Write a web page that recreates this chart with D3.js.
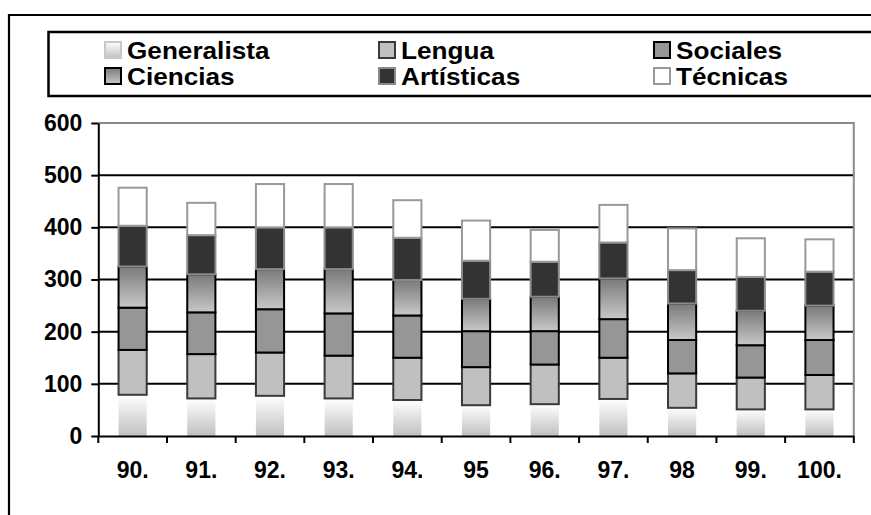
<!DOCTYPE html>
<html>
<head>
<meta charset="utf-8">
<script src="https://cdn.jsdelivr.net/npm/d3@7"></script>
<style>
html,body{margin:0;padding:0;background:#fff;}
svg{display:block;font-family:"Liberation Sans",Arial,Helvetica,sans-serif;font-weight:bold;}
</style>
</head>
<body>
<svg id="chart" width="871" height="515"></svg>
<script>
const categories = ["90.","91.","92.","93.","94.","95","96.","97.","98","99.","100."];
const seriesNames = ["Generalista","Lengua","Sociales","Ciencias","Artísticas","Técnicas"];
const generalista = [79,72,77,72,69,59,61,71,54,51,51];
const lengua      = [86,85,83,82,81,73,76,79,66,61,66];
const sociales    = [81,80,83,81,81,69,64,74,64,62,67];
const ciencias    = [79,73,77,85,68,62,66,78,70,66,66];
const artisticas  = [78,75,80,80,81,73,67,69,64,65,65];
const tecnicas    = [73,62,83,83,72,77,61,72,80,74,62];
const yTicks = [0,100,200,300,400,500,600];

const seriesValues = [generalista,lengua,sociales,ciencias,artisticas,tecnicas];
const data = categories.map((c,i)=>{
  const o = {cat:c};
  seriesNames.forEach((s,j)=>o[s]=seriesValues[j][i]);
  return o;
});

const svg = d3.select("#chart");
const defs = svg.append("defs");
function grad(id, top, bottom){
  const g = defs.append("linearGradient").attr("id",id).attr("x1",0).attr("y1",0).attr("x2",0).attr("y2",1);
  g.append("stop").attr("offset","0%").attr("stop-color",top);
  g.append("stop").attr("offset","100%").attr("stop-color",bottom);
}
grad("gGen","#ffffff","#c0c0c0");
grad("gCien","#7a7a7a","#c8c8c8");

const styles = {
  "Generalista":{fill:"url(#gGen)",stroke:"#c8c8c8"},
  "Lengua":{fill:"#c0c0c0",stroke:"#3a3a3a"},
  "Sociales":{fill:"#969696",stroke:"#000000"},
  "Ciencias":{fill:"url(#gCien)",stroke:"#000000"},
  "Artísticas":{fill:"#333333",stroke:"#8a8a8a"},
  "Técnicas":{fill:"#ffffff",stroke:"#999999"}
};

// outer frame
svg.append("path").attr("d","M9,515V15H871").attr("fill","none").attr("stroke","#000").attr("stroke-width",2.2);

// legend
svg.append("rect").attr("x",48.5).attr("y",32).attr("width",900).attr("height",64)
  .attr("fill","#fff").attr("stroke","#000").attr("stroke-width",2.5);
const legX = [104,378,653];
const legY = [41,67];
seriesNames.forEach((s,i)=>{
  const col = i%3, row = Math.floor(i/3);
  const g = svg.append("g").attr("transform",`translate(${legX[col]},${legY[row]})`);
  g.append("rect").attr("x",1).attr("y",1).attr("width",16).attr("height",16)
    .attr("fill",styles[s].fill).attr("stroke",styles[s].stroke).attr("stroke-width",2);
  g.append("text").attr("transform","translate(23,17.5) scale(1.09,1)")
    .attr("font-size",24).attr("fill","#000").text(s);
});

// scales
const x = d3.scaleBand().domain(categories).range([98.3,853.8]).padding(0);
const y = d3.scaleLinear().domain([0,600]).range([436,123]);
const barW = x.bandwidth()*0.41;

// gridlines
svg.append("g").selectAll("line").data(yTicks.filter(t=>t>0 && t<600)).join("line")
  .attr("x1",x.range()[0]).attr("x2",x.range()[1])
  .attr("y1",d=>y(d)).attr("y2",d=>y(d))
  .attr("stroke","#000").attr("stroke-width",2);
// plot border top and right (gray)
svg.append("path")
  .attr("d",`M${x.range()[0]},${y(600)}H${x.range()[1]}V${y(0)}`)
  .attr("fill","none").attr("stroke","#8a8a8a").attr("stroke-width",2);

// stacked bars
const stack = d3.stack().keys(seriesNames)(data);
stack.forEach(layer=>{
  const st = styles[layer.key];
  svg.append("g").selectAll("rect").data(layer).join("rect")
    .attr("x",d=>x(d.data.cat)+(x.bandwidth()-barW)/2)
    .attr("width",barW)
    .attr("y",d=>y(d[1]))
    .attr("height",d=>y(d[0])-y(d[1]))
    .attr("fill",st.fill)
    .attr("stroke",layer.key==="Generalista"?"none":st.stroke)
    .attr("stroke-width",2);
});

// y axis
const yAxis = svg.append("g").attr("transform",`translate(${x.range()[0]},0)`)
  .call(d3.axisLeft(y).tickValues(yTicks).tickSize(7).tickPadding(9).tickSizeOuter(0));
yAxis.select(".domain").attr("stroke","#000").attr("stroke-width",2);
yAxis.selectAll(".tick line").attr("stroke","#000").attr("stroke-width",2);
yAxis.selectAll(".tick text").attr("font-size",23).attr("font-weight","bold")
  .attr("font-family","Liberation Sans, Arial, sans-serif").attr("fill","#000");

// x axis
const xAxis = svg.append("g").attr("transform",`translate(0,${y(0)})`)
  .call(d3.axisBottom(x).tickSize(0).tickPadding(26));
xAxis.select(".domain").attr("stroke","#000").attr("stroke-width",2);
xAxis.selectAll(".tick text").attr("font-size",23).attr("font-weight","bold")
  .attr("font-family","Liberation Sans, Arial, sans-serif").attr("fill","#000");
// category boundary ticks
const bounds = categories.map(c=>x(c)).concat([x.range()[1]]);
xAxis.append("g").selectAll("line").data(bounds).join("line")
  .attr("x1",d=>d).attr("x2",d=>d).attr("y1",0).attr("y2",7)
  .attr("stroke","#000").attr("stroke-width",2);
</script>
</body>
</html>
